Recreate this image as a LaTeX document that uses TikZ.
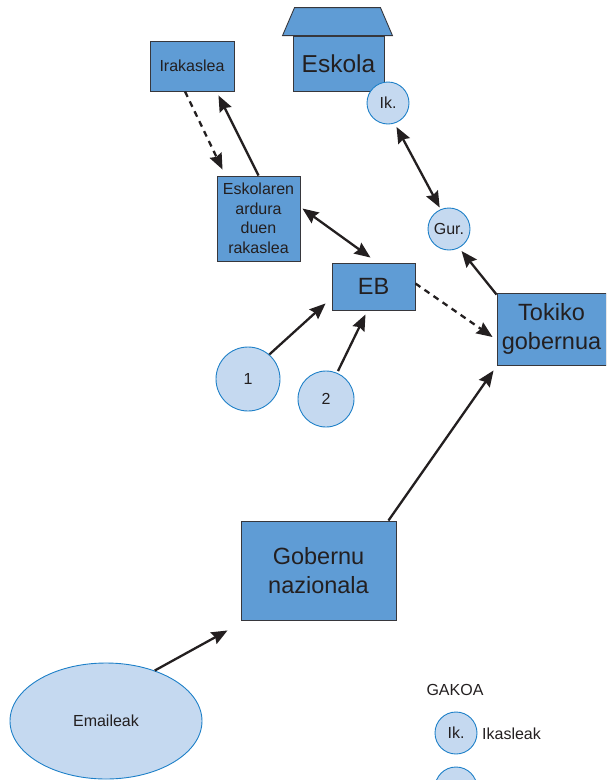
\documentclass[tikz,border=0pt]{standalone}
\usepackage{fontspec}
\setmainfont{Liberation Sans}
\usetikzlibrary{arrows.meta,calc,shapes.geometric}
\definecolor{boxblue}{RGB}{95,156,213}
\definecolor{circfill}{RGB}{197,217,240}
\definecolor{circline}{RGB}{30,128,200}
\definecolor{ink}{RGB}{35,31,32}
\definecolor{boxline}{RGB}{55,55,60}
\begin{document}
\begin{tikzpicture}[x=1pt,y=-1pt,
  bluebox/.style={draw=boxline,line width=0.9pt,fill=boxblue,inner sep=0pt,text=ink,align=center},
  smalltext/.style={font=\fontsize{16}{19.5}\selectfont},
  bigtext/.style={font=\fontsize{23.5}{29}\selectfont},
  disc/.style={circle,draw=circline,line width=0.9pt,fill=circfill,inner sep=0pt,text=ink,font=\fontsize{16}{19}\selectfont},
  tip/.tip={Stealth[length=16pt,width=13pt,inset=2pt]},
  arr/.style={draw=ink,line width=2.3pt,-tip},
  dbl/.style={draw=ink,line width=2.3pt,tip-tip},
  dasharr/.style={arr,dash pattern=on 6pt off 5pt}
]
\useasboundingbox (0,0) rectangle (606,780);
\clip (0,0) rectangle (606,780);

% boxes
\node[bluebox,smalltext,minimum width=84pt,minimum height=50pt] (irak) at (192,66) {Irakaslea};
\node[bluebox,smalltext,minimum width=83pt,minimum height=85pt] (eskr) at (258.5,218.5) {Eskolaren\\ardura\\duen\\rakaslea};
\node[bluebox,bigtext,minimum width=83pt,minimum height=47pt] (eb) at (373.5,286.5) {EB};
\node[bluebox,bigtext,minimum width=109pt,minimum height=72pt] (tok) at (551.5,329) {Tokiko\\gobernua};
\node[bluebox,bigtext,minimum width=155pt,minimum height=99pt] (gob) at (318.5,570.5) {Gobernu\\nazionala};

% school house
\node[bluebox,font=\fontsize{24.5}{29}\selectfont,minimum width=91pt,minimum height=55pt] (eskola) at (338.5,63.5) {Eskola};
\draw[draw=boxline,line width=0.9pt,fill=boxblue]
  ($(eskola.north west)+(-10,0)$) -- ($(eskola.north east)+(8,0)$) --
  ($(eskola.north east)+(-4,-28)$) -- ($(eskola.north west)+(2,-28)$) -- cycle;

% circles
\node[disc,minimum size=42pt] (ik) at (388,103) {Ik.};
\node[disc,minimum size=42pt] (gur) at (449,229) {Gur.};
\node[disc,minimum size=64pt] (c1) at (248,379) {1};
\node[disc,minimum size=56pt] (c2) at (326,399) {2};
\node[ellipse,draw=circline,line width=0.9pt,fill=circfill,inner sep=0pt,text=ink,
      font=\fontsize{16}{19}\selectfont,minimum width=192pt,minimum height=116pt] (emai) at (106,721) {Emaileak};

% legend
\node[text=ink,font=\fontsize{16}{19}\selectfont] (gakoa) at (455,690) {GAKOA};
\node[disc,minimum size=42pt] (lik) at (456,733) {Ik.};
\node[text=ink,font=\fontsize{16}{19}\selectfont,anchor=west,inner sep=0pt] (likt) at (482,734) {Ikasleak};
\node[disc,minimum size=42pt] (lgur) at (456,788) {};

% connectors
\draw[dasharr] ($(irak.south)+(-7,0)$) -- ($(eskr.north west)+(6,-6)$);
\draw[arr] (eskr.north) -- ($(irak.south east)+(-16,4)$);
\draw[dbl] ($(eskr.east)+(2,-10)$) -- ($(eb.north)+(-3,-5)$);
\draw[dasharr] ($(eb.east)+(0,-3)$) -- ($(tok.west)+(-4,8)$);
\draw[arr,shorten >=4pt] ($(tok.north west)+(0,2)$) -- (gur.-62);
\draw[dbl,shorten <=4pt,shorten >=2pt] (ik.-72) -- (gur.113);
\draw[arr] (c1.49) -- ($(eb.south west)+(-6,-7)$);
\draw[arr,shorten <=2pt] (c2.67) -- ($(eb.south)+(-8,4)$);
\draw[arr] ($(gob.north east)+(-8,0)$) -- ($(tok.south west)+(-3,5)$);
\draw[arr] (emai.46) -- ($(gob.south west)+(-13,10)$);
\end{tikzpicture}
\end{document}
